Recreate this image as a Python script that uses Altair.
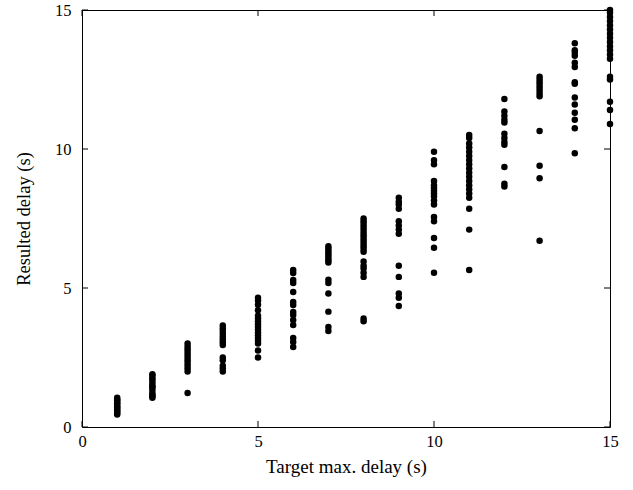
import altair as alt
import pandas as pd

# Resulted delay values (s) observed for each target max. delay (s)
d1 = [0.45, 0.5, 0.55, 0.6, 0.65, 0.7, 0.75, 0.8, 0.85, 0.9, 0.95, 1.0, 1.05]
d2 = [1.05, 1.1, 1.15, 1.2, 1.3, 1.4, 1.45, 1.5, 1.6, 1.7, 1.75, 1.85, 1.9]
d3 = [1.22, 2.0, 2.1, 2.2, 2.3, 2.4, 2.5, 2.6, 2.7, 2.8, 2.9, 3.0]
d4 = [3.65, 3.55, 3.45, 3.35, 3.25, 3.15, 3.05, 2.95, 2.5, 2.4, 2.2, 2.1, 2.0]
d5 = [4.65, 4.55, 4.4, 4.2, 4.0, 3.9, 3.8, 3.7, 3.6, 3.5, 3.4, 3.3, 3.2, 3.1, 3.0, 2.75, 2.5]
d6 = [5.65, 5.54, 5.29, 5.18, 4.86, 4.5, 4.39, 4.14, 4.03, 3.85, 3.67, 3.2, 3.06, 2.88]
d7 = [6.5, 6.42, 6.33, 6.25, 6.17, 6.08, 6.0, 5.92, 5.3, 5.18, 4.8, 4.15, 3.6, 3.45]
d8 = [7.5, 7.4, 7.3, 7.2, 7.1, 7.0, 6.9, 6.8, 6.7, 6.6, 6.5, 6.4, 6.3, 5.95, 5.8, 5.7, 5.55, 5.4, 3.9, 3.8]
d9 = [8.25, 8.1, 8.0, 7.85, 7.4, 7.25, 7.1, 6.95, 5.8, 5.4, 4.8, 4.65, 4.35]
d10 = [9.9, 9.6, 9.45, 8.85, 8.7, 8.6, 8.5, 8.4, 8.3, 8.15, 8.0, 7.55, 7.4, 6.8, 6.45, 5.55]
d11 = [10.5, 10.4, 10.2, 10.05, 9.9, 9.75, 9.6, 9.45, 9.3, 9.15, 9.0, 8.85, 8.7, 8.55, 8.4, 8.25, 7.85, 7.1, 5.65]
d12 = [11.8, 11.35, 11.2, 11.05, 10.95, 10.55, 10.4, 10.25, 10.15, 9.35, 8.75, 8.65]
d13 = [12.6, 12.5, 12.4, 12.3, 12.2, 12.1, 12.0, 11.9, 10.65, 9.4, 8.95, 6.7]
d14 = [13.8, 13.55, 13.45, 13.35, 13.1, 12.95, 12.4, 12.35, 11.85, 11.6, 11.3, 11.05, 10.75, 9.85]
d15 = [15.0, 14.9, 14.75, 14.6, 14.45, 14.3, 14.15, 14.0, 13.85, 13.7, 13.55, 13.4, 13.25, 12.6, 12.5, 11.7, 11.4, 10.9]

columns = [d1, d2, d3, d4, d5, d6, d7, d8, d9, d10, d11, d12, d13, d14, d15]
tick_values = [0, 5, 10, 15]

rows = []
for i, col in enumerate(columns, start=1):
    for v in col:
        rows.append({"target": i, "resulted": v})
df = pd.DataFrame(rows)
ticks_x = pd.DataFrame({"target": tick_values})
ticks_y = pd.DataFrame({"resulted": tick_values})

W, H = 528, 417
TL = 6
FONT = "Liberation Serif"

xaxis = alt.Axis(values=tick_values, ticks=False, domain=False, grid=False,
                 labelFlush=False, labelOverlap=False,
                 labelPadding=6, titlePadding=8, title="Target max. delay (s)",
                 labelFontSize=16.5, titleFontSize=19, titleFontWeight="normal")
yaxis = alt.Axis(values=tick_values, ticks=False, domain=False, grid=False,
                 labelFlush=False, labelOverlap=False,
                 labelPadding=11, titlePadding=21, title="Resulted delay (s)",
                 labelFontSize=16.5, titleFontSize=18.5, titleFontWeight="normal")

xs = alt.Scale(domain=[0, 15], nice=False, zero=False)
ys = alt.Scale(domain=[0, 15], nice=False, zero=False)

points = alt.Chart(df).mark_circle(size=42, color="black", opacity=1).encode(
    x=alt.X("target:Q", scale=xs, axis=xaxis),
    y=alt.Y("resulted:Q", scale=ys, axis=yaxis),
)

bottom_ticks = alt.Chart(ticks_x).mark_rule(color="black", strokeWidth=1).encode(
    x=alt.X("target:Q", scale=xs, axis=xaxis),
    y=alt.value(H), y2=alt.value(H - TL),
)
top_ticks = alt.Chart(ticks_x).mark_rule(color="black", strokeWidth=1).encode(
    x=alt.X("target:Q", scale=xs, axis=xaxis),
    y=alt.value(0), y2=alt.value(TL),
)
left_ticks = alt.Chart(ticks_y).mark_rule(color="black", strokeWidth=1).encode(
    y=alt.Y("resulted:Q", scale=ys, axis=yaxis),
    x=alt.value(0), x2=alt.value(TL),
)
right_ticks = alt.Chart(ticks_y).mark_rule(color="black", strokeWidth=1).encode(
    y=alt.Y("resulted:Q", scale=ys, axis=yaxis),
    x=alt.value(W), x2=alt.value(W - TL),
)

chart = alt.layer(bottom_ticks, top_ticks, left_ticks, right_ticks, points).properties(
    width=W, height=H,
    autosize=alt.AutoSizeParams(type="none"),
    padding={"left": 82, "top": 10, "right": 23, "bottom": 63},
    background="white",
).configure_view(
    stroke="black", strokeWidth=1
).configure_axis(
    labelFont=FONT, titleFont=FONT, labelColor="black", titleColor="black"
)

chart.save("out.html", embed_options={"renderer": "svg", "actions": False})
